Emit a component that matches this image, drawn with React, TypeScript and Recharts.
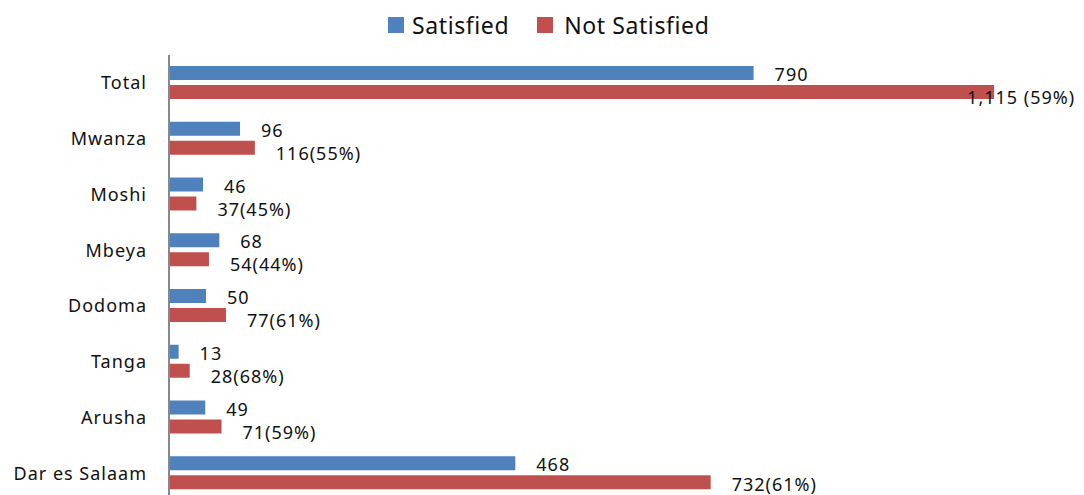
import React from 'react';
import { BarChart, Bar, XAxis, YAxis, LabelList } from 'recharts';

const categories = ['Total', 'Mwanza', 'Moshi', 'Mbeya', 'Dodoma', 'Tanga', 'Arusha', 'Dar es Salaam'];
const satisfied = [790, 96, 46, 68, 50, 13, 49, 468];
const notSatisfied = [1115, 116, 37, 54, 77, 28, 71, 732];
const notSatisfiedPct = [59, 55, 45, 44, 61, 68, 59, 61];
const domainMax = 1200;

const BLUE = '#4F81BD';
const RED = '#C0504D';
const FONT = '"Noto Sans", "Open Sans", sans-serif';
const CHART_W = 1076;
const CHART_H = 500;
const VISIBLE_H = 487;

const data = categories.map((name, i) => ({
  name,
  satisfied: satisfied[i],
  notSatisfied: notSatisfied[i],
  pct: notSatisfiedPct[i],
}));

const fmt = (v: number) => v.toLocaleString('en-US');

const labelStyle = { fontSize: 18, fontFamily: FONT, fill: '#111', letterSpacing: 1 };

const BlueLabel = (props: any) => {
  const { x, y, width, height, value } = props;
  return (
    <text x={x + width + 21} y={y + height / 2 + 1} dominantBaseline="central" {...labelStyle}>
      {fmt(value)}
    </text>
  );
};

const RedLabel = (props: any) => {
  const { x, y, width, height, value, index } = props;
  const text = index === 0 ? `${fmt(value)} (${data[index].pct}%)` : `${fmt(value)}(${data[index].pct}%)`;
  const approxW = text.length * 11;
  let tx = x + width + 21;
  // long bar: label is pulled back over the bar end so it stays inside the chart
  if (tx + approxW > CHART_W) tx = x + width - 27;
  const ty = Math.min(y + height / 2 + 5, VISIBLE_H - 11);
  return (
    <text x={tx} y={ty} dominantBaseline="central" {...labelStyle}>
      {text}
    </text>
  );
};

const Legend = () => (
  <div style={{ position: 'absolute', top: 1, left: 380, display: 'flex', alignItems: 'center', fontFamily: FONT, fontSize: 23, color: '#111', whiteSpace: 'nowrap' }}>
    <span style={{ width: 16, height: 16, background: BLUE, display: 'inline-block', marginRight: 8 }} />
    <span style={{ letterSpacing: 0.6, marginRight: 28 }}>Satisfied</span>
    <span style={{ width: 16, height: 16, background: RED, display: 'inline-block', marginRight: 11 }} />
    <span style={{ letterSpacing: 0.6 }}>Not Satisfied</span>
  </div>
);

export default function App() {
  return (
    <div style={{ position: 'relative', width: CHART_W, height: VISIBLE_H, overflow: 'hidden', background: '#fff' }}>
      <Legend />
      <BarChart
        width={CHART_W}
        height={CHART_H}
        data={data}
        layout="vertical"
        margin={{ top: 47, right: 27, bottom: 7, left: 0 }}
        barGap={5}
      >
        <XAxis type="number" hide domain={[0, domainMax]} />
        <YAxis
          type="category"
          dataKey="name"
          width={161}
          tickLine={false}
          tickSize={0}
          tickMargin={22}
          axisLine={{ stroke: '#888', strokeWidth: 2 }}
          tick={{ fill: '#111', fontSize: 18, fontFamily: FONT, letterSpacing: 1 }}
          interval={0}
        />
        <Bar dataKey="satisfied" fill={BLUE} barSize={14} isAnimationActive={false}>
          <LabelList dataKey="satisfied" content={BlueLabel} />
        </Bar>
        <Bar dataKey="notSatisfied" fill={RED} barSize={14} isAnimationActive={false}>
          <LabelList dataKey="notSatisfied" content={RedLabel} />
        </Bar>
      </BarChart>
    </div>
  );
}
